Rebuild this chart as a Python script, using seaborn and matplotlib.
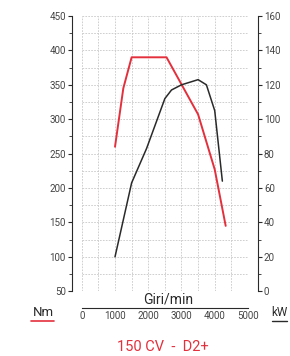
import pandas as pd
import seaborn as sns
import matplotlib.pyplot as plt
from matplotlib.ticker import MultipleLocator

# Coppia (Nm) e potenza (kW) in funzione dei giri/min
rpm_torque = [1000, 1250, 1500, 2550, 3500, 4000, 4330]
torque_nm = [260, 345, 390, 390, 307, 227, 145]

rpm_power = [1000, 1500, 1950, 2500, 2700, 3000, 3500, 3750, 4000, 4230]
power_kw = [20, 63, 83, 112, 117, 120, 123, 120, 105, 64]

x_ticks = [0, 1000, 2000, 3000, 4000, 5000]
nm_ticks = [50, 100, 150, 200, 250, 300, 350, 400, 450]
kw_ticks = [0, 20, 40, 60, 80, 100, 120, 140, 160]

red = '#e3303c'
dark = '#2a2a2a'
grey = '#444444'

sns.set_style('white')
plt.rcParams['font.family'] = ['Liberation Sans Narrow', 'Roboto', 'DejaVu Sans']

torque_df = pd.DataFrame({'rpm': rpm_torque, 'Nm': torque_nm})
power_df = pd.DataFrame({'rpm': rpm_power, 'kW': power_kw})

fig = plt.figure(figsize=(2.9, 3.56), dpi=100)
ax = fig.add_axes([0.282, 0.182, 0.573, 0.773])
ax2 = ax.twinx()

sns.lineplot(data=torque_df, x='rpm', y='Nm', ax=ax, color=red, linewidth=1.4, sort=False)
sns.lineplot(data=power_df, x='rpm', y='kW', ax=ax2, color=dark, linewidth=1.1, sort=False)

ax.set_xlim(0, 5000)
ax.set_ylim(50, 450)
ax2.set_ylim(0, 160)

# griglia tratteggiata ogni 500 giri e 25 Nm
ax.set_xticks(x_ticks)
ax.set_yticks(nm_ticks)
ax.xaxis.set_minor_locator(MultipleLocator(500))
ax.yaxis.set_minor_locator(MultipleLocator(25))
ax.grid(which='both', color='#c8c8c8', linestyle=(0, (2, 1.5)), linewidth=0.6)
ax.set_axisbelow(True)

for s in ['top', 'right']:
    ax.spines[s].set_visible(False)
ax.spines['left'].set_position(('outward', 7))
ax.spines['bottom'].set_position(('outward', 12))
ax.spines['left'].set_color(dark)
ax.spines['bottom'].set_color(dark)
ax.spines['left'].set_linewidth(0.8)
ax.spines['bottom'].set_linewidth(0.8)

ax.tick_params(axis='y', which='major', direction='out', length=3, width=0.8,
               color=dark, labelsize=7, labelcolor=grey, pad=1.5)
ax.tick_params(axis='y', which='minor', direction='out', length=2, width=0.6, color=dark)
ax.tick_params(axis='x', which='major', direction='in', length=3.5, width=0.8,
               color=dark, labelsize=7, labelcolor=grey, pad=2.5)
ax.tick_params(axis='x', which='minor', direction='in', length=2.5, width=0.6, color=dark)
ax.set_xlabel('')
ax.set_ylabel('')

ax2.set_yticks(kw_ticks)
ax2.yaxis.set_minor_locator(MultipleLocator(10))
for s in ['top', 'left', 'bottom']:
    ax2.spines[s].set_visible(False)
ax2.spines['right'].set_position(('outward', 7))
ax2.spines['right'].set_color(dark)
ax2.spines['right'].set_linewidth(0.8)
ax2.tick_params(axis='y', which='major', direction='out', length=3, width=0.8,
                color=dark, labelsize=7, labelcolor=grey, pad=1.5)
ax2.tick_params(axis='y', which='minor', direction='out', length=2, width=0.6, color=dark)
ax2.set_ylabel('')

fig.text(168 / 290, 1 - 299 / 356, 'Giri/min', ha='center', va='center', fontsize=10, color=dark)

fig.text(43 / 290, 1 - 313 / 356, 'Nm', ha='center', va='center', fontsize=9.5, color=dark)
fig.add_artist(plt.Line2D([31 / 290, 54 / 290], [1 - 320.5 / 356] * 2, color=red, linewidth=1.2))
fig.text(287 / 290, 1 - 313 / 356, 'kW', ha='right', va='center', fontsize=8.5, color=dark)
fig.add_artist(plt.Line2D([272 / 290, 287 / 290], [1 - 320.5 / 356] * 2, color=dark, linewidth=1.0))

fig.text(163 / 290, 1 - 347 / 356, '150 CV  -  D2+', ha='center', va='center',
         fontsize=10.5, color=red)

fig.savefig('out.png', dpi=100)
